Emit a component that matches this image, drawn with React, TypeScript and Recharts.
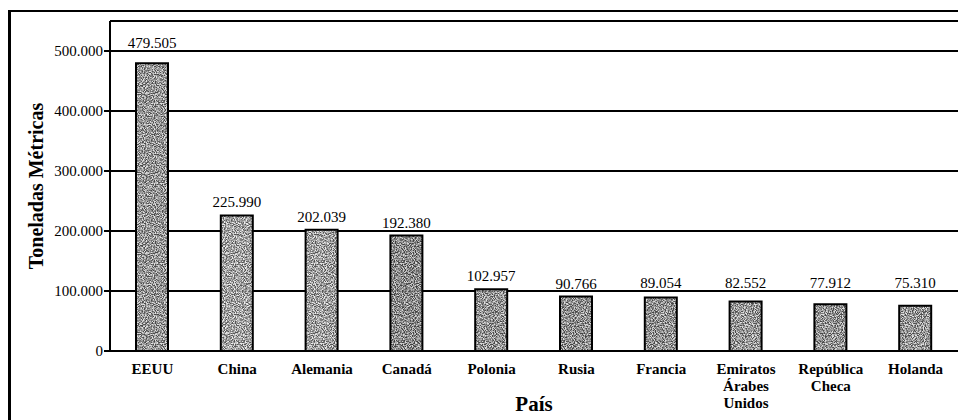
import React from "react";
import { BarChart, Bar, XAxis, YAxis, CartesianGrid, LabelList, Cell } from "recharts";

const countries = [
  "EEUU",
  "China",
  "Alemania",
  "Canadá",
  "Polonia",
  "Rusia",
  "Francia",
  "Emiratos Árabes Unidos",
  "República Checa",
  "Holanda",
];
const tonnes = [479505, 225990, 202039, 192380, 102957, 90766, 89054, 82552, 77912, 75310];
const yTicks = [0, 100000, 200000, 300000, 400000, 500000];

const barFills = [
  "#b4b4b4",
  "#d2d2d2",
  "#cdcdcd",
  "#9a9a9a",
  "#afafaf",
  "#a6a6a6",
  "#acacac",
  "#bababa",
  "#b0b0b0",
  "#b6b6b6",
];

const data = countries.map((c, i) => ({ pais: c, valor: tonnes[i] }));

const fmt = (v: number) => {
  const s = Math.round(v).toString();
  return s.replace(/\B(?=(\d{3})+(?!\d))/g, ".");
};

const SERIF = '"Liberation Serif", "Times New Roman", Times, serif';

const XTick = (props: any) => {
  const { x, y, payload } = props;
  const words = String(payload.value).split(" ");
  return (
    <g transform={`translate(${x},${y})`}>
      {words.map((w, i) => (
        <text
          key={i}
          x={0}
          y={0}
          dy={15 + i * 17}
          textAnchor="middle"
          style={{ fontFamily: SERIF, fontWeight: "bold", fontSize: 15, fill: "#000" }}
        >
          {w}
        </text>
      ))}
    </g>
  );
};

// Value label: sits above the bar, nudged above any gridline it would cross.
const ValueLabel = (props: any) => {
  const { x, y, width, height, value } = props;
  const v = Number(value);
  const bottom = y + height;
  const pxPerUnit = v > 0 ? height / v : 0;
  let baseline = y - 8;
  for (const t of yTicks) {
    const gy = bottom - t * pxPerUnit;
    if (gy >= baseline - 11 && gy <= baseline + 2) {
      baseline = gy - 3;
    }
  }
  return (
    <text
      x={x + width / 2}
      y={baseline}
      textAnchor="middle"
      style={{ fontFamily: SERIF, fontSize: 15, fill: "#000" }}
    >
      {fmt(v)}
    </text>
  );
};

const Textures = () => (
  <svg width={0} height={0} style={{ position: "absolute", left: 0, top: 0 }}>
    <defs>
      <filter id="grain" x="0" y="0" width="100%" height="100%" colorInterpolationFilters="sRGB">
        <feTurbulence type="fractalNoise" baseFrequency="0.9" numOctaves={2} seed={7} result="t" />
        <feColorMatrix
          in="t"
          type="matrix"
          values="3 0 0 0 -1  3 0 0 0 -1  3 0 0 0 -1  0 0 0 0 0.6"
        />
      </filter>
      {barFills.map((c, i) => (
        <pattern key={i} id={`tex${i}`} patternUnits="userSpaceOnUse" width={80} height={80}>
          <rect width={80} height={80} fill={c} />
          <rect width={80} height={80} fill="#fff" filter="url(#grain)" />
        </pattern>
      ))}
    </defs>
  </svg>
);

export default function App() {
  return (
    <div style={{ position: "absolute", left: 0, top: 0, width: 961, height: 420, background: "#fff", overflow: "hidden" }}>
      <Textures />
      <div
        style={{
          position: "absolute",
          left: 8,
          top: 10,
          width: 950,
          height: 420,
          borderLeft: "3px solid #000",
          borderTop: "2px solid #000",
          boxSizing: "border-box",
        }}
      />
      <div style={{ position: "absolute", left: 0, top: 0 }}>
        <BarChart
          width={961}
          height={420}
          data={data}
          margin={{ top: 21, right: 3, left: 0, bottom: 0 }}
          barCategoryGap={0}
        >
          <CartesianGrid vertical={false} stroke="#000" strokeWidth={2} />
          <XAxis
            dataKey="pais"
            interval={0}
            tick={<XTick />}
            tickLine={false}
            axisLine={{ stroke: "#000", strokeWidth: 2 }}
            height={69}
            label={{
              value: "País",
              position: "insideBottom",
              offset: 9,
              style: { fontFamily: SERIF, fontWeight: "bold", fontSize: 21, fill: "#000" },
            }}
          />
          <YAxis
            domain={[0, 550000]}
            ticks={yTicks}
            interval={0}
            width={110}
            tickFormatter={fmt}
            tick={{ style: { fontFamily: SERIF, fontSize: 15, fill: "#000" } }}
            tickLine={{ stroke: "#000", strokeWidth: 2 }}
            tickSize={6}
            tickMargin={1}
            axisLine={{ stroke: "#000", strokeWidth: 2 }}
            label={{
              value: "Toneladas Métricas",
              angle: -90,
              position: "insideLeft",
              offset: 36,
              style: { textAnchor: "middle", fontFamily: SERIF, fontWeight: "bold", fontSize: 20, fill: "#000" },
            }}
          />
          <Bar dataKey="valor" barSize={32} stroke="#000" strokeWidth={2} isAnimationActive={false}>
            {data.map((d, i) => (
              <Cell key={d.pais} fill={`url(#tex${i})`} />
            ))}
            <LabelList dataKey="valor" content={<ValueLabel />} />
          </Bar>
        </BarChart>
      </div>
    </div>
  );
}
